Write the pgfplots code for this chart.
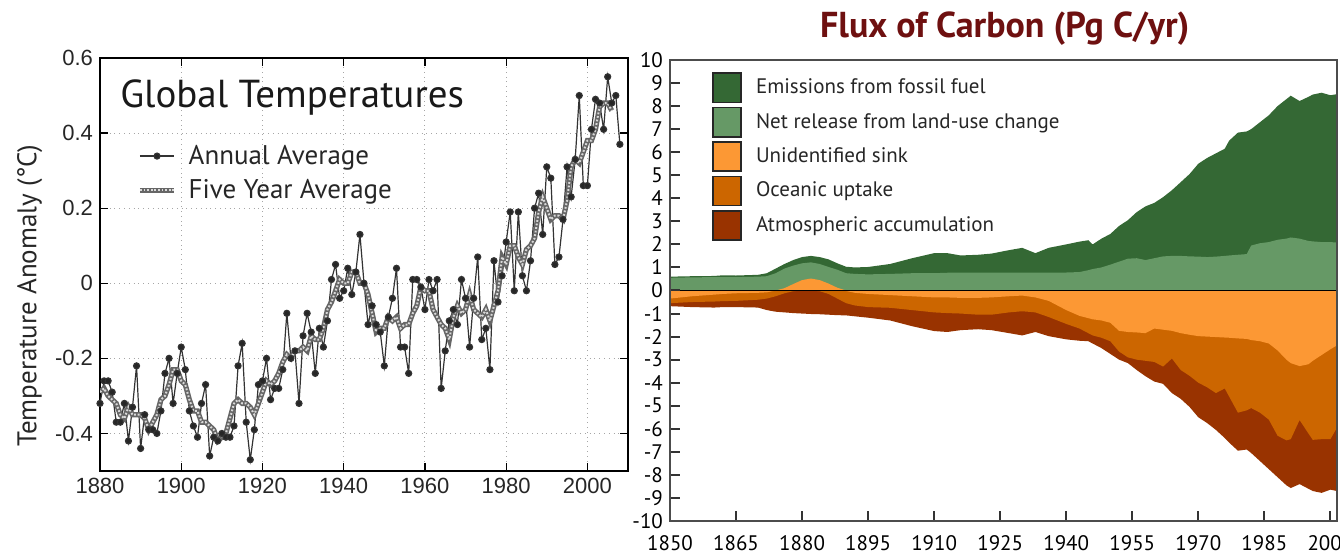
\documentclass[border=0pt]{standalone}
\usepackage{pgfplots}
\pgfplotsset{compat=1.18}
\usepackage{pgfplotstable}
\usepackage{fontspec}
\setmainfont{PT Sans}
\newfontfamily\arialf{Liberation Sans}
\definecolor{fossil}{RGB}{52,104,52}
\definecolor{landuse}{RGB}{102,153,102}
\definecolor{sink}{RGB}{252,152,52}
\definecolor{ocean}{RGB}{204,102,0}
\definecolor{atmos}{RGB}{153,51,0}
\definecolor{titlered}{RGB}{110,16,16}

\pgfplotstableread{
year anom
1880 -0.32
1881 -0.26
1882 -0.26
1883 -0.29
1884 -0.37
1885 -0.37
1886 -0.32
1887 -0.42
1888 -0.33
1889 -0.22
1890 -0.44
1891 -0.35
1892 -0.39
1893 -0.39
1894 -0.40
1895 -0.34
1896 -0.24
1897 -0.20
1898 -0.32
1899 -0.24
1900 -0.17
1901 -0.23
1902 -0.34
1903 -0.38
1904 -0.41
1905 -0.32
1906 -0.27
1907 -0.46
1908 -0.41
1909 -0.42
1910 -0.40
1911 -0.41
1912 -0.41
1913 -0.38
1914 -0.22
1915 -0.16
1916 -0.37
1917 -0.47
1918 -0.39
1919 -0.27
1920 -0.26
1921 -0.20
1922 -0.31
1923 -0.28
1924 -0.28
1925 -0.23
1926 -0.08
1927 -0.20
1928 -0.18
1929 -0.32
1930 -0.14
1931 -0.08
1932 -0.13
1933 -0.24
1934 -0.12
1935 -0.17
1936 -0.10
1937 0.01
1938 0.05
1939 -0.04
1940 -0.02
1941 0.04
1942 -0.03
1943 0.03
1944 0.13
1945 0.00
1946 -0.11
1947 -0.06
1948 -0.11
1949 -0.13
1950 -0.22
1951 -0.09
1952 -0.04
1953 0.04
1954 -0.17
1955 -0.17
1956 -0.24
1957 0.01
1958 0.01
1959 -0.01
1960 -0.07
1961 0.01
1962 -0.02
1963 0.01
1964 -0.28
1965 -0.18
1966 -0.10
1967 -0.07
1968 -0.11
1969 0.01
1970 -0.04
1971 -0.17
1972 -0.04
1973 0.07
1974 -0.15
1975 -0.12
1976 -0.23
1977 0.06
1978 -0.05
1979 0.02
1980 0.11
1981 0.19
1982 -0.02
1983 0.19
1984 0.02
1985 -0.02
1986 0.06
1987 0.20
1988 0.24
1989 0.13
1990 0.31
1991 0.28
1992 0.05
1993 0.07
1994 0.17
1995 0.31
1996 0.23
1997 0.33
1998 0.50
1999 0.26
2000 0.26
2001 0.41
2002 0.49
2003 0.48
2004 0.41
2005 0.55
2006 0.48
2007 0.50
2008 0.37
}\annual

\pgfplotstableread{
year avg
1880 -0.29
1881 -0.28
1882 -0.30
1883 -0.31
1884 -0.32
1885 -0.35
1886 -0.36
1887 -0.33
1888 -0.35
1889 -0.35
1890 -0.35
1891 -0.36
1892 -0.39
1893 -0.37
1894 -0.35
1895 -0.31
1896 -0.30
1897 -0.27
1898 -0.23
1899 -0.23
1900 -0.26
1901 -0.27
1902 -0.31
1903 -0.34
1904 -0.34
1905 -0.37
1906 -0.37
1907 -0.38
1908 -0.39
1909 -0.42
1910 -0.41
1911 -0.40
1912 -0.36
1913 -0.32
1914 -0.31
1915 -0.32
1916 -0.32
1917 -0.33
1918 -0.35
1919 -0.32
1920 -0.29
1921 -0.26
1922 -0.27
1923 -0.26
1924 -0.24
1925 -0.21
1926 -0.19
1927 -0.20
1928 -0.18
1929 -0.18
1930 -0.17
1931 -0.18
1932 -0.14
1933 -0.15
1934 -0.15
1935 -0.12
1936 -0.07
1937 -0.05
1938 -0.02
1939 0.01
1940 0.00
1941 0.00
1942 0.03
1943 0.03
1944 0.00
1945 0.00
1946 -0.03
1947 -0.08
1948 -0.13
1949 -0.12
1950 -0.12
1951 -0.09
1952 -0.10
1953 -0.09
1954 -0.12
1955 -0.11
1956 -0.11
1957 -0.08
1958 -0.06
1959 -0.01
1960 -0.02
1961 -0.02
1962 -0.07
1963 -0.09
1964 -0.11
1965 -0.12
1966 -0.15
1967 -0.09
1968 -0.06
1969 -0.08
1970 -0.07
1971 -0.03
1972 -0.07
1973 -0.08
1974 -0.09
1975 -0.07
1976 -0.10
1977 -0.06
1978 -0.02
1979 0.07
1980 0.05
1981 0.10
1982 0.10
1983 0.07
1984 0.05
1985 0.09
1986 0.10
1987 0.12
1988 0.19
1989 0.23
1990 0.20
1991 0.17
1992 0.18
1993 0.18
1994 0.17
1995 0.22
1996 0.31
1997 0.33
1998 0.32
1999 0.35
2000 0.38
2001 0.38
2002 0.41
2003 0.47
2004 0.48
2005 0.48
2006 0.46
}\fiveyr

% T = fossil + land-use (top), L = land-use, S = unidentified sink boundary,
% O = sink + ocean boundary, A = total sinks incl. atmosphere
\pgfplotstableread{
year T L S O A
1850 0 0 0 0 0
1850 0.60 0.55 -0.35 -0.55 -0.68
1855 0.62 0.57 -0.25 -0.50 -0.72
1860 0.63 0.58 -0.18 -0.48 -0.74
1862 0.66 0.58 -0.15 -0.46 -0.72
1865 0.65 0.58 -0.12 -0.45 -0.72
1870 0.68 0.60 -0.10 -0.40 -0.74
1872 0.75 0.62 -0.08 -0.35 -0.85
1874 0.95 0.75 0 -0.25 -0.92
1876 1.15 0.95 0 -0.12 -0.95
1878 1.32 1.08 0 -0.03 -0.98
1880 1.45 1.18 0 0 -1.00
1882 1.50 1.22 0 0 -1.02
1884 1.45 1.15 0 -0.03 -1.03
1886 1.35 1.02 0 -0.15 -1.05
1888 1.18 0.90 0 -0.35 -1.07
1890 1.03 0.75 -0.02 -0.55 -1.08
1892 1.00 0.72 -0.10 -0.65 -1.12
1895 1.02 0.70 -0.15 -0.72 -1.18
1900 1.15 0.72 -0.20 -0.75 -1.30
1905 1.40 0.75 -0.25 -0.85 -1.55
1910 1.62 0.75 -0.30 -0.95 -1.76
1913 1.62 0.77 -0.30 -0.98 -1.80
1916 1.52 0.78 -0.32 -1.00 -1.72
1920 1.55 0.78 -0.32 -1.05 -1.68
1923 1.60 0.78 -0.30 -1.05 -1.72
1927 1.75 0.78 -0.25 -0.95 -1.85
1930 1.85 0.78 -0.22 -0.90 -1.95
1933 1.62 0.78 -0.30 -0.95 -1.80
1936 1.85 0.78 -0.45 -1.15 -1.98
1940 2.00 0.78 -0.85 -1.45 -2.12
1943 2.12 0.80 -1.10 -1.65 -2.18
1945 2.18 0.88 -1.20 -1.85 -2.20
1946 2.00 0.93 -1.25 -1.95 -2.30
1948 2.25 1.00 -1.30 -2.05 -2.50
1950 2.45 1.12 -1.40 -2.20 -2.75
1952 2.80 1.25 -1.75 -2.65 -3.00
1954 3.05 1.38 -1.80 -2.90 -3.15
1956 3.40 1.40 -1.82 -3.00 -3.45
1958 3.65 1.32 -1.85 -3.05 -3.72
1960 3.80 1.40 -1.65 -3.10 -3.95
1962 4.05 1.48 -1.70 -3.30 -4.05
1964 4.35 1.50 -1.75 -2.95 -4.45
1966 4.70 1.50 -1.85 -3.45 -4.70
1968 5.05 1.48 -1.92 -3.70 -5.05
1970 5.50 1.47 -1.98 -4.00 -5.50
1972 5.75 1.45 -2.00 -4.20 -5.75
1974 5.95 1.47 -2.02 -4.45 -6.05
1976 6.15 1.50 -2.04 -4.25 -6.40
1977 6.50 1.52 -2.05 -4.60 -6.60
1979 6.85 1.55 -2.08 -5.30 -6.95
1981 6.90 1.58 -2.10 -5.20 -6.90
1982 7.00 1.95 -2.15 -5.10 -7.05
1984 7.30 2.05 -2.20 -5.30 -7.40
1986 7.60 2.10 -2.30 -5.60 -7.75
1988 8.00 2.20 -2.60 -6.30 -8.10
1990 8.30 2.25 -3.00 -6.50 -8.45
1991 8.45 2.30 -3.15 -6.45 -8.57
1993 8.22 2.25 -3.28 -5.62 -8.40
1995 8.40 2.15 -3.20 -6.20 -8.60
1996 8.50 2.13 -3.05 -6.48 -8.70
1998 8.58 2.10 -2.80 -6.45 -8.78
2000 8.47 2.10 -2.55 -6.45 -8.64
2001.5 8.52 2.08 -2.38 -5.95 -8.70
2001.5 0 0 0 0 0
}\carbon

% unidentified sink acting as a source around 1880
\pgfplotstableread{
year S
1874 0
1876 0.10
1878 0.28
1880 0.45
1882 0.52
1884 0.45
1886 0.30
1888 0.12
1890 0
}\bump

\begin{document}
\begin{tikzpicture}
\path[use as bounding box] (0,0) rectangle (670pt,278pt);

% ---------------- Left panel ----------------
\begin{axis}[
  at={(50pt,42.5pt)}, anchor=south west, scale only axis,
  width=264pt, height=206.5pt,
  xmin=1880, xmax=2010, ymin=-0.5, ymax=0.6,
  xtick={1880,1900,1920,1940,1960,1980,2000},
  ytick={-0.4,-0.2,0,0.2,0.4,0.6},
  tick align=inside, major tick length=4pt,
  tick style={black, line width=0.6pt},
  axis line style={black, line width=1pt},
  grid=major, grid style={dotted, gray!70, line width=0.5pt},
  ticklabel style={font=\arialf\fontsize{11}{13}\selectfont, text=black!85},
  /pgf/number format/assume math mode=true,
  /pgf/number format/1000 sep={},
  ylabel={Temperature Anomaly (°C)},
  ylabel style={at={(axis description cs:-0.133,0.425)}, anchor=center,
    font=\fontsize{13.5}{16}\selectfont, text=black!85},
  legend style={at={(axis description cs:0.07,0.80)}, anchor=north west,
    draw=none, fill=none, inner sep=0pt, row sep=2pt,
    font=\fontsize{13.5}{16}\selectfont, text=black!85,
    /tikz/every odd column/.append style={column sep=4pt}},
  legend cell align=left,
]
\addplot[black!80, line width=0.6pt, mark=*, mark size=1.5pt,
  mark options={fill=black!85}] table[x=year,y=anom]{\annual};
\addlegendentry{Annual Average}
\addplot[black!60, line width=2.6pt,
  postaction={draw, white!85!black, line width=1pt, dash pattern=on 0.9pt off 0.9pt}]
  table[x=year,y=avg]{\fiveyr};
\addlegendentry{Five Year Average}
\node[anchor=west, font=\fontsize{19.5}{23}\selectfont, text=black!90]
  at (axis description cs:0.025,0.905) {Global Temperatures};
\end{axis}

% ---------------- Right panel ----------------
\begin{axis}[
  at={(335pt,17.5pt)}, anchor=south west, scale only axis,
  width=333.5pt, height=230.5pt,
  xmin=1850, xmax=2001.5, ymin=-10, ymax=10,
  xtick={1850,1865,...,2000}, ytick={-10,-9,...,10},
  xtick pos=bottom, ytick pos=left,
  tick align=inside, major tick length=5pt,
  tick style={black!80, line width=1pt},
  axis line style={black!70, line width=0.9pt},
  axis on top,
  ticklabel style={font=\fontsize{10.5}{12}\selectfont, text=black},
  xticklabel style={yshift=-3.5pt},
  /pgf/number format/assume math mode=true,
  /pgf/number format/1000 sep={},
  every axis title shift=0pt,
  title={Flux of Carbon (Pg C/yr)},
  title style={at={(axis description cs:0.502,1.048)}, anchor=base,
    font=\bfseries\fontsize{18}{21}\selectfont, text=titlered},
  legend image code/.code={\draw[#1] (0pt,-7.3pt) rectangle (14pt,7.3pt); \path (21pt,0pt);},
  legend style={at={(axis description cs:0.063,0.974)}, anchor=north west,
    draw=none, fill=none, inner sep=0pt, row sep=1.8pt,
    nodes={inner sep=0pt},
    font=\fontsize{10.5}{12}\selectfont, text=black!85},
  legend cell align=left,
]
\addlegendimage{fill=fossil, draw=black!85, line width=0.8pt}
\addlegendentry{Emissions from fossil fuel}
\addlegendimage{fill=landuse, draw=black!85, line width=0.8pt}
\addlegendentry{Net release from land-use change}
\addlegendimage{fill=sink, draw=black!85, line width=0.8pt}
\addlegendentry{Unidentified sink}
\addlegendimage{fill=ocean, draw=black!85, line width=0.8pt}
\addlegendentry{Oceanic uptake}
\addlegendimage{fill=atmos, draw=black!85, line width=0.8pt}
\addlegendentry{Atmospheric accumulation}

\addplot[fill=fossil, draw=none, forget plot] table[x=year,y=T]{\carbon};
\addplot[fill=landuse, draw=none, forget plot] table[x=year,y=L]{\carbon};
\addplot[fill=atmos, draw=none, forget plot] table[x=year,y=A]{\carbon};
\addplot[fill=ocean, draw=none, forget plot] table[x=year,y=O]{\carbon};
\addplot[fill=sink, draw=none, forget plot] table[x=year,y=S]{\carbon};
\addplot[fill=sink, draw=none, forget plot] table[x=year,y=S]{\bump};
\addplot[black, line width=0.8pt, forget plot] coordinates {(1850,0) (2001.5,0)};
\end{axis}
\end{tikzpicture}
\end{document}
